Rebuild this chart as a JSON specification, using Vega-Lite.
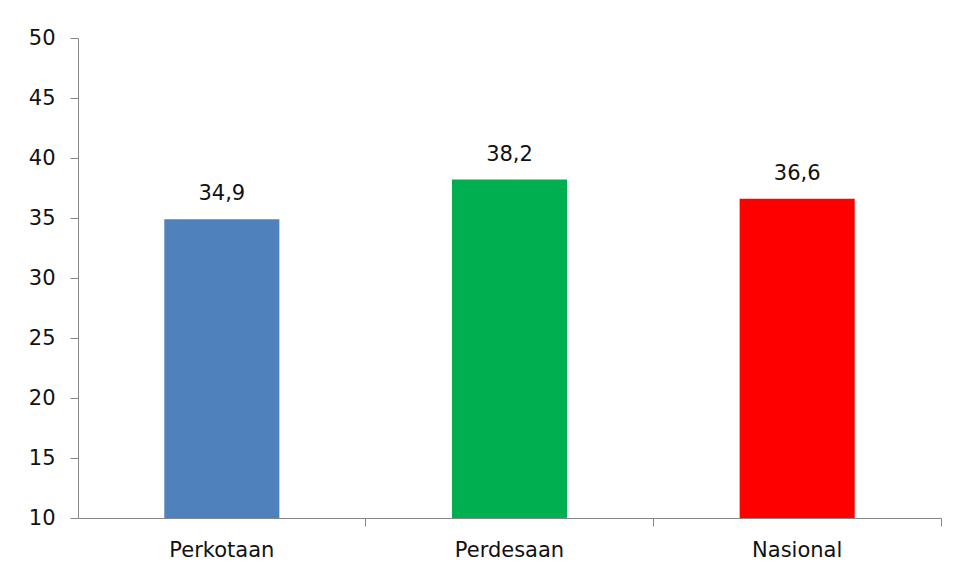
{
  "$schema": "https://vega.github.io/schema/vega-lite/v6.json",
  "width": 863,
  "height": 480,
  "padding": {"left": 78, "top": 38, "right": 19, "bottom": 62},
  "autosize": {"type": "none"},
  "background": "white",
  "data": {
    "values": [
      {"wilayah": "Perkotaan", "nilai": 34.9},
      {"wilayah": "Perdesaan", "nilai": 38.2},
      {"wilayah": "Nasional", "nilai": 36.6}
    ]
  },
  "encoding": {
    "x": {
      "field": "wilayah",
      "type": "nominal",
      "sort": null,
      "scale": {"paddingInner": 0.6, "paddingOuter": 0.3},
      "axis": {
        "title": null,
        "labelAngle": 0,
        "bandPosition": 1.75,
        "tickSize": 8,
        "labelPadding": 13,
        "domainColor": "#868686",
        "tickColor": "#868686",
        "labelFont": "DejaVu Sans",
        "labelFontSize": 21,
        "labelColor": "#111111",
        "grid": false
      }
    },
    "y": {
      "field": "nilai",
      "type": "quantitative",
      "scale": {"domain": [10, 50], "nice": false, "zero": false},
      "axis": {
        "title": null,
        "values": [10, 15, 20, 25, 30, 35, 40, 45, 50],
        "tickSize": 8,
        "labelPadding": 15,
        "domainColor": "#868686",
        "tickColor": "#868686",
        "labelFont": "DejaVu Sans",
        "labelFontSize": 21,
        "labelColor": "#111111",
        "grid": false
      }
    }
  },
  "layer": [
    {
      "mark": {"type": "bar", "clip": true},
      "encoding": {
        "color": {
          "field": "wilayah",
          "type": "nominal",
          "scale": {"domain": ["Perkotaan", "Perdesaan", "Nasional"], "range": ["#4F81BD", "#00B050", "#FF0000"]},
          "legend": null
        }
      }
    },
    {
      "mark": {"type": "text", "baseline": "alphabetic", "dy": -19, "font": "DejaVu Sans", "fontSize": 21, "color": "#111111"},
      "encoding": {
        "text": {"field": "nilai", "type": "quantitative", "format": ".1f"}
      }
    }
  ],
  "config": {
    "view": {"stroke": null},
    "locale": {"number": {"decimal": ",", "thousands": ".", "grouping": [3], "currency": ["Rp", ""]}}
  }
}
